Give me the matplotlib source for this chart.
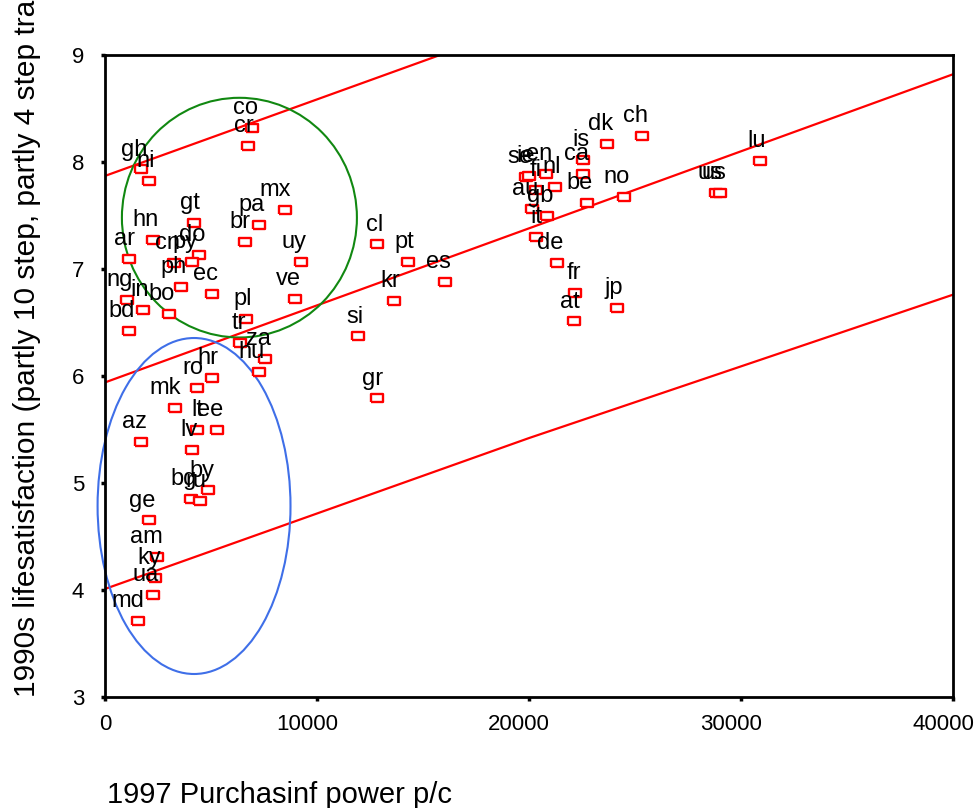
import matplotlib
matplotlib.use("Agg")
import matplotlib.pyplot as plt
from matplotlib.patches import Ellipse
from matplotlib.transforms import ScaledTranslation

plt.rcParams['font.family'] = ['Liberation Sans', 'DejaVu Sans']

# === data ===
countries = ['co', 'cr', 'gh', 'ni', 'mx', 'pa', 'br', 'uy', 'gt', 'hn', 'ar', 'do',
             'cn', 'py', 'ph', 'ec', 'ng', 'in', 'bd', 'bo', 've', 'pl', 'tr', 'za',
             'hu', 'hr', 'ro', 'mk', 'lt', 'ee', 'lv', 'az', 'by', 'bg', 'ru', 'ge',
             'am', 'ky', 'ua', 'md',
             'cl', 'pt', 'es', 'kr', 'si', 'gr',
             'is', 'ca', 'dk', 'ch', 'no', 'be', 'se', 'ie', 'en', 'fi', 'nl', 'au',
             'gb', 'it', 'de', 'fr', 'at', 'jp', 'us', 'us', 'lu']
ppp = [6930, 6750, 1700, 2075, 8490, 7260, 6600, 9245, 4200, 2260, 1130, 4430,
       3250, 4100, 3580, 5050, 1040, 1790, 1130, 3020, 8960, 6650, 6370, 7550,
       7260, 5050, 4340, 3300, 4340, 5280, 4100, 1700, 4860, 4060, 4480, 2075,
       2450, 2360, 2260, 1560,
       12830, 14290, 16040, 13630, 11930, 12830,
       22550, 22550, 23680, 25330, 24480, 22740, 19860, 20000, 20800, 20330, 21230, 20140,
       20850, 20330, 21320, 22170, 22120, 24150, 28820, 29010, 30900]
lifesat = [8.32, 8.15, 7.93, 7.82, 7.55, 7.41, 7.25, 7.07, 7.43, 7.27, 7.09, 7.13,
           7.06, 7.07, 6.83, 6.77, 6.71, 6.62, 6.42, 6.58, 6.72, 6.53, 6.31, 6.16,
           6.04, 5.98, 5.89, 5.70, 5.50, 5.50, 5.31, 5.38, 4.93, 4.85, 4.83, 4.65,
           4.31, 4.11, 3.95, 3.71,
           7.23, 7.07, 6.88, 6.70, 6.37, 5.79,
           8.02, 7.89, 8.17, 8.24, 7.67, 7.62, 7.86, 7.87, 7.89, 7.74, 7.77, 7.56,
           7.50, 7.30, 7.06, 6.78, 6.51, 6.64, 7.71, 7.71, 8.01]

# regression line and its band
line_x = [0, 20000, 40000]
fit_y = [5.94, 7.38, 8.82]
upper_y = [7.87, 9.30, 10.85]
lower_y = [4.01, 5.42, 6.76]

# hand drawn ellipses (center x, center y, width, height)
green_ell = (6340, 7.48, 11085, 2.24)
blue_ell = (4200, 4.785, 9100, 3.14)

xticks = [0, 10000, 20000, 30000, 40000]
yticks = [3, 4, 5, 6, 7, 8, 9]

# === plot ===
fig = plt.figure(figsize=(9.79, 8.08), dpi=100)
ax = fig.add_axes([105 / 979, 1 - 697 / 808, 848 / 979, 642 / 808])

for ys in (fit_y, upper_y, lower_y):
    ax.plot(line_x, ys, color='red', lw=1.6)

rect = [(-1, -0.7), (1, -0.7), (1, 0.7), (-1, 0.7), (-1, -0.7)]
ax.plot(ppp, lifesat, ls='none', marker=rect, markersize=8.8, markerfacecolor='white',
        markeredgecolor='red', markeredgewidth=1.7, zorder=3)

for name, x, y in zip(countries, ppp, lifesat):
    ax.annotate(name, (x, y), xytext=(4.3, 10), textcoords='offset points',
                ha='right', va='baseline', fontsize=17, color='black', zorder=4)

for (cx, cy, w, h), col in ((green_ell, '#118811'), (blue_ell, '#3f6fe8')):
    ax.add_patch(Ellipse((cx, cy), w, h, fill=False, edgecolor=col, lw=1.5,
                         clip_on=False, zorder=2))

ax.set_xlim(0, 40000)
ax.set_ylim(3, 9)
ax.set_xticks(xticks)
ax.set_yticks(yticks)
ax.tick_params(direction='out', length=3, width=2.5, labelsize=16)
ax.tick_params(axis='y', pad=12)
ax.tick_params(axis='x', pad=9)
for s in ax.spines.values():
    s.set_linewidth(2)

# the wide x labels sit a bit left of their ticks in the original
shift = ScaledTranslation(-10 / 100, 0, fig.dpi_scale_trans)
for lbl in ax.get_xticklabels()[1:]:
    lbl.set_transform(lbl.get_transform() + shift)

fig.text(107 / 979, 1 - 803 / 808, '1997 Purchasinf power p/c', fontsize=21,
         ha='left', va='baseline')
fig.text(35 / 979, 1 - 697 / 808,
         '1990s lifesatisfaction (partly 10 step, partly 4 step transformed)',
         fontsize=21.5, rotation=90, rotation_mode='anchor', ha='left', va='baseline')

fig.savefig('out.png', dpi=100)
